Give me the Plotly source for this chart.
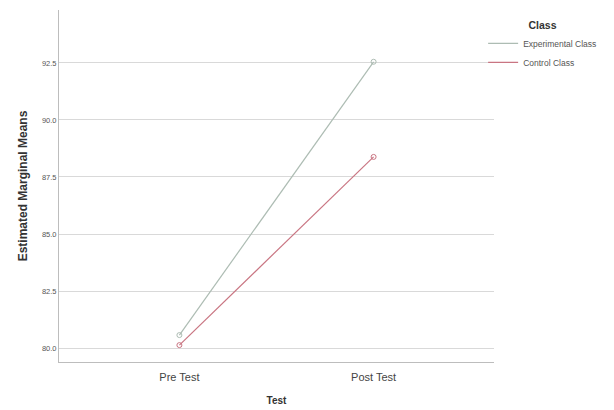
import plotly.graph_objects as go

tests = ["Pre Test", "Post Test"]
experimental = [80.57, 92.55]
control = [80.13, 88.38]
y_ticks = [80.0, 82.5, 85.0, 87.5, 90.0, 92.5]
y_tick_labels = ["80.0", "82.5", "85.0", "87.5", "90.0", "92.5"]

exp_color = "#adbcb3"
ctl_color = "#c97582"

fig = go.Figure()
for name, vals, col in [("Experimental Class", experimental, exp_color),
                        ("Control Class", control, ctl_color)]:
    fig.add_trace(go.Scatter(
        x=tests, y=vals, name=name, mode="lines", legendgroup=name,
        line=dict(color=col, width=1.2)))
    fig.add_trace(go.Scatter(
        x=tests, y=vals, name=name, mode="markers", legendgroup=name, showlegend=False,
        marker=dict(symbol="circle-open", size=5, color=col, line=dict(width=1))))

fig.update_layout(
    width=614, height=410,
    margin=dict(l=59, r=120, t=10, b=48),
    paper_bgcolor="white", plot_bgcolor="white",
    font=dict(family="Liberation Sans, Arial", color="#444"),
    showlegend=True,
    legend=dict(
        x=0.975, y=0.985, xanchor="left", yanchor="top",
        title=dict(text="<b>Class</b>", font=dict(size=10.5, color="#333"), side="top center"),
        font=dict(size=8.5, color="#555"),
        itemwidth=30, tracegroupgap=0, bgcolor="rgba(0,0,0,0)"),
    xaxis=dict(
        type="category", range=[-0.62, 1.62], automargin=False,
        showgrid=False, showline=True, linecolor="#bdbdbd", linewidth=1,
        ticks="", tickfont=dict(size=11, color="#444"), ticklabelstandoff=5,
        title=dict(text="<b>Test</b>", font=dict(size=10, color="#333"), standoff=14)),
    yaxis=dict(
        range=[79.39, 94.82], tickvals=y_ticks, ticktext=y_tick_labels, automargin=False,
        showgrid=True, gridcolor="#d9d9d9", gridwidth=1,
        showline=True, linecolor="#bdbdbd", linewidth=1, zeroline=False,
        ticks="", tickfont=dict(size=7.5, color="#555"),
        title=dict(text="<b>Estimated Marginal Means</b>", font=dict(size=12, color="#333"), standoff=11)),
)

fig.write_html("out.html")
